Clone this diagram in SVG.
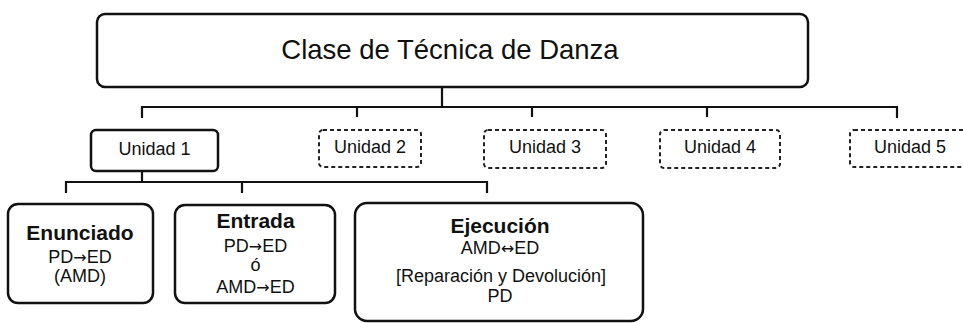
<svg xmlns="http://www.w3.org/2000/svg" width="963" height="323" viewBox="0 0 963 323">
<style>
.box{fill:#fff;stroke:#111;stroke-width:2.5}
.dash{fill:#fff;stroke:#222;stroke-width:2;stroke-dasharray:4 3}
.con{fill:none;stroke:#111;stroke-width:2.2}
text{font-family:"Liberation Sans",Arial,sans-serif;fill:#111;text-anchor:middle}
.t{font-size:27.5px}
.u{font-size:18px}
.b{font-size:21px;font-weight:bold}
.r{font-size:18px}
.ar{font-family:"DejaVu Sans",sans-serif;font-size:16px}
</style>
<rect width="963" height="323" fill="#fff"/>
<g id="connectors">
<path class="con" d="M442,75 V107 M142,118 V107 H897 V118 M357,107 V117 M532,107 V117 M707,107 V117"/>
<path class="con" d="M142,171 V182 M66,193 V182 H487 V193 M242,182 V193"/>
</g>
<g id="root">
<rect class="box" x="97" y="14" width="711" height="73" rx="8"/>
<text class="t" x="450" y="59">Clase de Técnica de Danza</text>
</g>
<g id="unidad1">
<rect class="box" x="91" y="130" width="127" height="41" rx="5"/>
<text class="u" x="154.5" y="155">Unidad 1</text>
</g>
<g id="unidad2">
<rect class="dash" x="319" y="130" width="102" height="37" rx="4"/>
<text class="u" x="370" y="153">Unidad 2</text>
</g>
<g id="unidad3">
<rect class="dash" x="484" y="130" width="122" height="38" rx="4"/>
<text class="u" x="545" y="153">Unidad 3</text>
</g>
<g id="unidad4">
<rect class="dash" x="660" y="130" width="120" height="38" rx="4"/>
<text class="u" x="720" y="153">Unidad 4</text>
</g>
<g id="unidad5">
<rect class="dash" x="850" y="130" width="125" height="37" rx="4"/>
<text class="u" x="910" y="153">Unidad 5</text>
</g>
<g id="enunciado">
<rect class="box" x="8" y="204" width="145" height="99" rx="10"/>
<text class="b" x="80" y="240">Enunciado</text>
<text class="r" x="80" y="263">PD<tspan class="ar">→</tspan>ED</text>
<text class="r" x="80" y="282">(AMD)</text>
</g>
<g id="entrada">
<rect class="box" x="175" y="205" width="160" height="98" rx="10"/>
<text class="b" x="255.5" y="228">Entrada</text>
<text class="r" x="255.5" y="252">PD<tspan class="ar">→</tspan>ED</text>
<text class="r" x="255.5" y="271">ó</text>
<text class="r" x="255.5" y="293">AMD<tspan class="ar">→</tspan>ED</text>
</g>
<g id="ejecucion">
<rect class="box" x="355" y="203" width="288" height="118" rx="12"/>
<text class="b" x="500" y="233">Ejecución</text>
<text class="r" x="500" y="254">AMD<tspan class="ar">↔</tspan>ED</text>
<text class="r" x="501" y="282">[Reparación y Devolución]</text>
<text class="r" x="500" y="302">PD</text>
</g>
</svg>
